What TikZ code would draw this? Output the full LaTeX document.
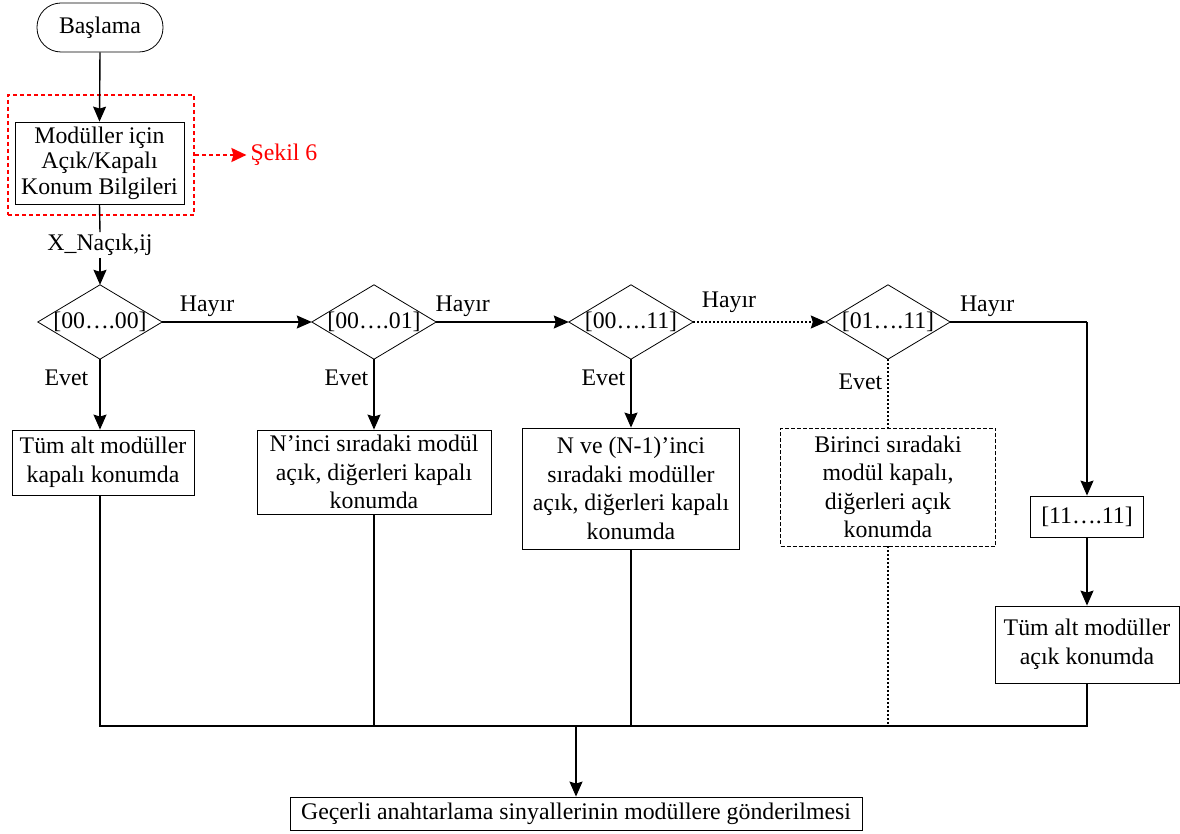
\documentclass[tikz,border=0pt]{standalone}
\usepackage{fontspec}
\setmainfont{Liberation Serif}
\usetikzlibrary{arrows.meta}
\begin{document}
\begin{tikzpicture}[x=1pt,y=-1pt,
  every node/.style={font=\fontsize{23.8}{28.5}\selectfont, align=center},
  box/.style={draw, line width=0.8pt, inner sep=2pt},
  dec/.style={inner sep=0pt, minimum width=124pt, minimum height=74pt},
  lbl/.style={inner sep=1pt},
  conn/.style={line width=1.4pt},
  arr/.style={conn, -{Stealth[length=15pt,width=13pt,inset=2pt]}},
  dotl/.style={line width=1.4pt, dash pattern=on 2pt off 2pt},
]
\useasboundingbox (0,0) rectangle (1180,834);

% start
\node[box, rounded corners=24pt, minimum width=126pt, minimum height=49pt] (start) at (100,27.5) {Başlama};
\node[box, minimum width=169pt, minimum height=82pt, font=\fontsize{23.8}{25.5}\selectfont] (info) at (99.5,163) {Modüller için\\Açık/Kapalı\\Konum Bilgileri};
\node[draw=red, line width=2pt, dash pattern=on 4pt off 3pt, minimum width=186pt, minimum height=120pt, inner sep=0pt] (redbox) at (101,155) {};
\node[text=red, lbl, inner sep=4pt] (sekil) at (284,155) {Şekil 6};
\draw[line width=2pt, red, dash pattern=on 4pt off 3pt, -{Stealth[length=15pt,width=14pt,inset=2pt]}] (redbox.east |- sekil) -- (sekil.west);

\node[lbl, inner sep=2pt] (xn) at (100,245) {X\_Naçık,ij};

% decisions
\node[dec] (d1) at (100,322) {[00….00]};
\node[dec] (d2) at (374,322) {[00….01]};
\node[dec] (d3) at (631,322) {[00….11]};
\node[dec] (d4) at (888,322) {[01….11]};
\foreach \d in {d1,d2,d3,d4}{
  \draw[line width=0.8pt] (\d.north) -- (\d.east) -- (\d.south) -- (\d.west) -- cycle;
}

% result boxes
\node[box, minimum width=182pt, minimum height=65pt] (b1) at (103,462.5) {Tüm alt modüller\\kapalı konumda};
\node[box, minimum width=234pt, minimum height=84pt] (b2) at (374,472) {N’inci sıradaki modül\\açık, diğerleri kapalı\\konumda};
\node[box, minimum width=217pt, minimum height=121pt] (b3) at (631,488.5) {N ve (N-1)’inci\\sıradaki modüller\\açık, diğerleri kapalı\\konumda};
\node[draw, line width=0.7pt, dash pattern=on 4pt off 2pt, minimum width=215pt, minimum height=118pt, inner sep=2pt] (b4) at (888,487) {Birinci sıradaki\\modül kapalı,\\diğerleri açık\\konumda};
\node[box, minimum width=113pt, minimum height=41pt] (b11) at (1087,516.5) {[11….11]};
\node[box, minimum width=184pt, minimum height=77pt] (b5) at (1087,644.5) {Tüm alt modüller\\açık konumda};
\node[box, minimum width=572pt, minimum height=33pt] (final) at (576,813.5) {Geçerli anahtarlama sinyallerinin modüllere gönderilmesi};

\coordinate (j) at (576,726);

% connectors
\draw[arr] (start.south) -- (info.north);
\draw[conn] (info.south) -- (xn.north);
\draw[arr] (xn.south) -- (d1.north);
\draw[arr] (d1.east) -- (d2.west) node[lbl, pos=0.3, above=4pt] {Hayır};
\draw[arr] (d2.east) -- (d3.west) node[lbl, pos=0.2, above=4pt] {Hayır};
\draw[dotl, -{Stealth[length=15pt,width=13pt,inset=2pt]}] (d3.east) -- (d4.west) node[lbl, pos=0.27, above=8pt] {Hayır};
\draw[conn] (d4.east) -- (d4.east -| b11.north) node[lbl, pos=0.27, above=4pt] {Hayır};
\draw[arr] (d4.east -| b11.north) -- (b11.north);
\draw[arr] (b11.south) -- (b5.north);

\draw[arr] (d1.south) -- (d1.south |- b1.north) node[lbl, pos=0.27, left=10pt] {Evet};
\draw[arr] (d2.south) -- (b2.north) node[lbl, pos=0.27, left=4pt] {Evet};
\draw[arr] (d3.south) -- (b3.north) node[lbl, pos=0.27, left=4pt] {Evet};
\draw[dotl] (d4.south) -- (b4.north) node[lbl, pos=0.33, left=4pt] {Evet};

\draw[conn] (b1.south -| d1.south) -- (d1.south |- j) -- (b5.south |- j) -- (b5.south);
\draw[conn] (b2.south) -- (b2.south |- j);
\draw[conn] (b3.south) -- (b3.south |- j);
\draw[dotl] (b4.south) -- (b4.south |- j);
\draw[arr] (j) -- (final.north);
\end{tikzpicture}
\end{document}
